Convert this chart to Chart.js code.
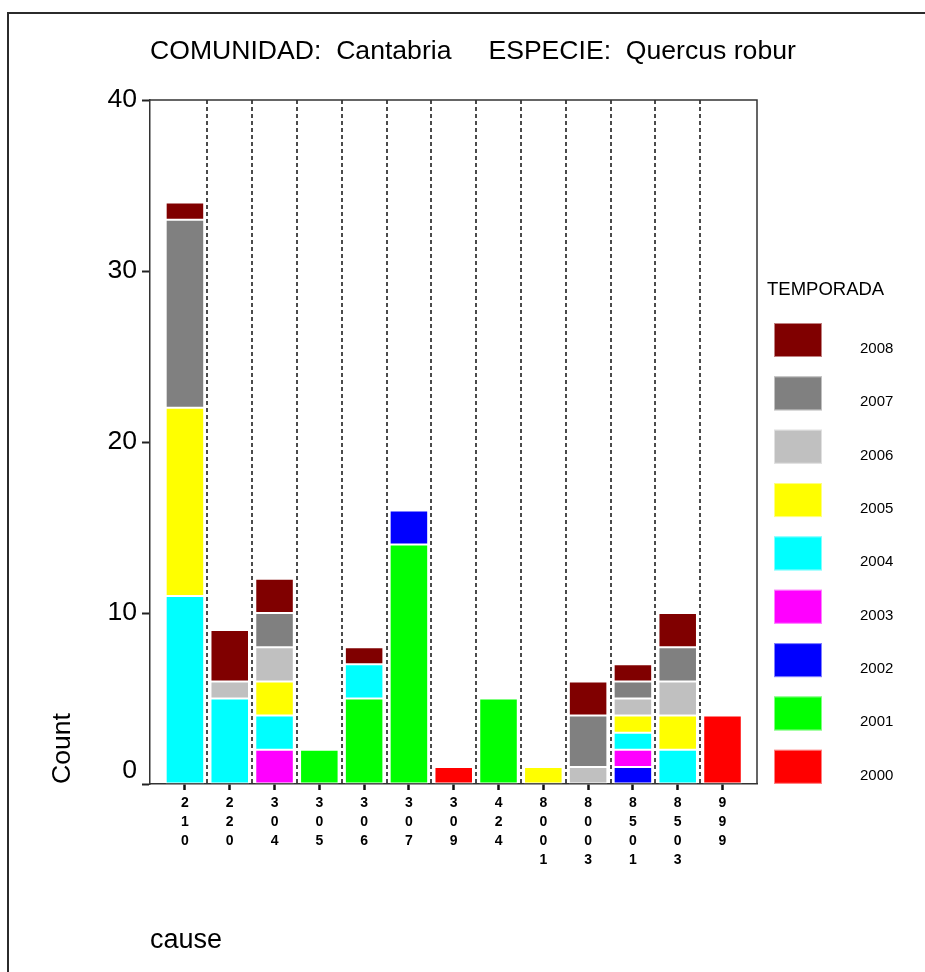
<!DOCTYPE html>
<html>
<head>
<meta charset="utf-8">
<script src="https://cdn.jsdelivr.net/npm/chart.js@4.4.1/dist/chart.umd.min.js"></script>
<style>
html,body{margin:0;padding:0;background:#fff;}
canvas{display:block;}
</style>
</head>
<body>
<canvas id="c" width="925" height="972" style="width:925px;height:972px"></canvas>
<script>
// ---- data ----
const causes = ['210','220','304','305','306','307','309','424','8001','8003','8501','8503','999'];
const seasons = ['2000','2001','2002','2003','2004','2005','2006','2007','2008'];
const seasonColors = ['#FF0000','#00FF00','#0000FF','#FF00FF','#00FFFF','#FFFF00','#C0C0C0','#808080','#800000'];
const v2000 = [0,0,0,0,0,0,1,0,0,0,0,0,4];
const v2001 = [0,0,0,2,5,14,0,5,0,0,0,0,0];
const v2002 = [0,0,0,0,0,2,0,0,0,0,1,0,0];
const v2003 = [0,0,2,0,0,0,0,0,0,0,1,0,0];
const v2004 = [11,5,2,0,2,0,0,0,0,0,1,2,0];
const v2005 = [11,0,2,0,0,0,0,0,1,0,1,2,0];
const v2006 = [0,1,2,0,0,0,0,0,0,1,1,2,0];
const v2007 = [11,0,2,0,0,0,0,0,0,3,1,2,0];
const v2008 = [1,3,2,0,1,0,0,0,0,2,1,2,0];
const seriesValues = [v2000,v2001,v2002,v2003,v2004,v2005,v2006,v2007,v2008];
const yTicks = [0,10,20,30,40];
const titleText = 'COMUNIDAD:  Cantabria     ESPECIE:  Quercus robur';
const legendTitle = 'TEMPORADA';
const yTitle = 'Count';
const xTitle = 'cause';

const FONT = "'Liberation Sans', Arial, Helvetica, sans-serif";

const datasets = seasons.map((s, k) => ({
  label: s,
  data: seriesValues[k].map((v, i) => ({x: i, y: v})).filter(p => p.y > 0),
  backgroundColor: seasonColors[k],
  borderColor: 'rgba(255,255,255,0.6)',
  borderWidth: 1,
  borderSkipped: false,
  categoryPercentage: 1,
  barPercentage: 0.86
}));

const decor = {
  id: 'decor',
  beforeDraw(chart) {
    const ctx = chart.ctx;
    ctx.save();
    ctx.fillStyle = '#fff';
    ctx.fillRect(0, 0, chart.width, chart.height);
    ctx.strokeStyle = '#2b2b2b';
    ctx.lineWidth = 2;
    ctx.beginPath();
    ctx.moveTo(8, chart.height);
    ctx.lineTo(8, 13);
    ctx.lineTo(chart.width, 13);
    ctx.stroke();
    ctx.fillStyle = '#000';
    ctx.font = '26.6px ' + FONT;
    ctx.textAlign = 'left';
    ctx.textBaseline = 'alphabetic';
    ctx.fillText(titleText, 150, 59);
    ctx.restore();
  },
  beforeDatasetsDraw(chart) {
    const {ctx, chartArea: a, scales: {x}} = chart;
    ctx.save();
    ctx.strokeStyle = '#111';
    ctx.lineWidth = 1.5;
    ctx.setLineDash([4, 3]);
    for (let k = 0; k < causes.length - 1; k++) {
      const px = Math.round(x.getPixelForValue(k + 0.5));
      ctx.beginPath();
      ctx.moveTo(px, a.top);
      ctx.lineTo(px, a.bottom);
      ctx.stroke();
    }
    ctx.restore();
  },
  afterDraw(chart) {
    const {ctx, chartArea: a} = chart;
    ctx.save();
    ctx.strokeStyle = '#333';
    ctx.lineWidth = 1.5;
    ctx.beginPath();
    ctx.moveTo(a.left, a.top);
    ctx.lineTo(a.right, a.top);
    ctx.lineTo(a.right, a.bottom);
    ctx.stroke();
    // legend
    ctx.fillStyle = '#000';
    ctx.font = '18.5px ' + FONT;
    ctx.textAlign = 'left';
    ctx.textBaseline = 'alphabetic';
    ctx.fillText(legendTitle, 767, 295);
    const ds = chart.data.datasets.slice().reverse();
    ds.forEach((d, j) => {
      const top = 323 + j * 53.35;
      ctx.fillStyle = d.backgroundColor;
      ctx.fillRect(774, top, 48, 34);
      ctx.strokeStyle = 'rgba(255,255,255,0.5)';
      ctx.lineWidth = 1;
      ctx.strokeRect(774.5, top + 0.5, 47, 33);
      ctx.fillStyle = '#000';
      ctx.font = '15px ' + FONT;
      ctx.fillText(d.label, 860, top + 30);
    });
    ctx.restore();
  }
};

new Chart(document.getElementById('c'), {
  type: 'bar',
  data: { datasets },
  plugins: [decor],
  options: {
    responsive: false,
    devicePixelRatio: 1,
    animation: false,
    layout: { padding: { left: 10, top: 100, right: 168, bottom: 5 } },
    plugins: { legend: { display: false }, title: { display: false }, tooltip: { enabled: false } },
    scales: {
      x: {
        type: 'linear',
        stacked: true,
        offset: false,
        min: -0.78,
        max: 12.77,
        afterBuildTicks: (scale) => { scale.ticks = causes.map((_, i) => ({ value: i })); },
        afterFit: (scale) => { scale.height = 183; },
        grid: { display: true, offset: false, drawOnChartArea: false, drawTicks: true, tickLength: 6, tickWidth: 2.5, tickColor: '#111' },
        border: { display: true, color: '#333', width: 1.5 },
        ticks: {
          autoSkip: false, maxRotation: 0, minRotation: 0, padding: 4,
          color: '#000',
          font: { family: FONT, size: 14, weight: 'bold', lineHeight: 19 / 14 },
          callback: (v) => { const s = causes[Math.round(v)]; return s ? s.split('') : ''; }
        },
        title: { display: true, text: xTitle, align: 'start', color: '#000', font: { family: FONT, size: 27 }, padding: { top: 0, bottom: 10 } }
      },
      y: {
        stacked: true,
        min: 0,
        max: 40,
        afterBuildTicks: (scale) => { scale.ticks = yTicks.map(v => ({ value: v })); },
        afterFit: (scale) => { scale.width = 140; },
        grid: { display: true, drawOnChartArea: false, drawTicks: true, tickLength: 8, tickWidth: 2, tickColor: '#222' },
        border: { display: true, color: '#333', width: 1.5 },
        ticks: {
          padding: 5, color: '#000',
          font: { family: FONT, size: 26.6, lineHeight: 1 },
          callback: (v) => v === 0 ? ['0', ''] : String(v)
        },
        title: { display: true, text: yTitle, align: 'start', color: '#000', font: { family: FONT, size: 26.6 }, padding: { top: 37, bottom: 0 } }
      }
    }
  }
});
</script>
</body>
</html>
